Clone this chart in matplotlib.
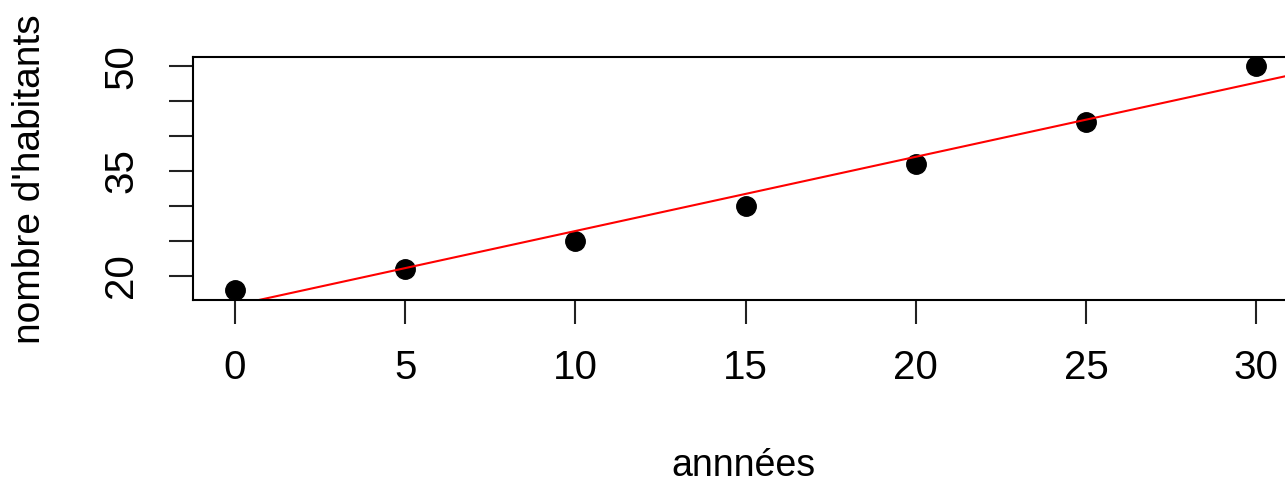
import numpy as np
import matplotlib
matplotlib.use("Agg")
import matplotlib.pyplot as plt

# data
annees = [0, 5, 10, 15, 20, 25, 30]
habitants = [18, 21, 25, 30, 36, 42, 50]

y_ticks = [20, 25, 30, 35, 40, 45, 50]
y_labels = ['20', '', '', '35', '', '', '50']
x_ticks = [0, 5, 10, 15, 20, 25, 30]

plt.rcParams['font.family'] = ['Liberation Sans', 'DejaVu Sans']

W, H = 1285, 482
fig = plt.figure(figsize=(W / 100, H / 100), dpi=100)

# plot box in pixels (right edge falls outside the picture)
left, top, right, bottom = 193, 57, 1297, 300
ax = fig.add_axes([left / W, 1 - bottom / H, (right - left) / W, (bottom - top) / H])

ax.plot(annees, habitants, 'o', color='black', markersize=14)

# regression line across the whole plot region (like abline)
slope, intercept = np.polyfit(annees, habitants, 1)
xs = np.array([-5, 40])
ax.plot(xs, intercept + slope * xs, color='red', lw=1.5)

ax.set_xlim(-1.23, 31.2)
ax.set_ylim(16.5, 51.35)

ax.set_xticks(x_ticks)
ax.set_xticklabels([str(v) for v in x_ticks])
ax.set_yticks(y_ticks)
ax.set_yticklabels(y_labels, rotation=90, va='center')

ax.tick_params(axis='both', direction='out', length=17, width=1.5,
               labelsize=29, color='#222222')
ax.tick_params(axis='x', pad=18)
ax.tick_params(axis='y', pad=21)

for s in ax.spines.values():
    s.set_linewidth(1.5)
    s.set_color('black')

fig.text(743 / W, 1 - 466 / H, 'annnées', ha='center', va='center', fontsize=27)
fig.text(30 / W, 1 - 179 / H, "nombre d'habitants", ha='center', va='center',
         rotation=90, fontsize=28)

fig.savefig('out.png', dpi=100)
